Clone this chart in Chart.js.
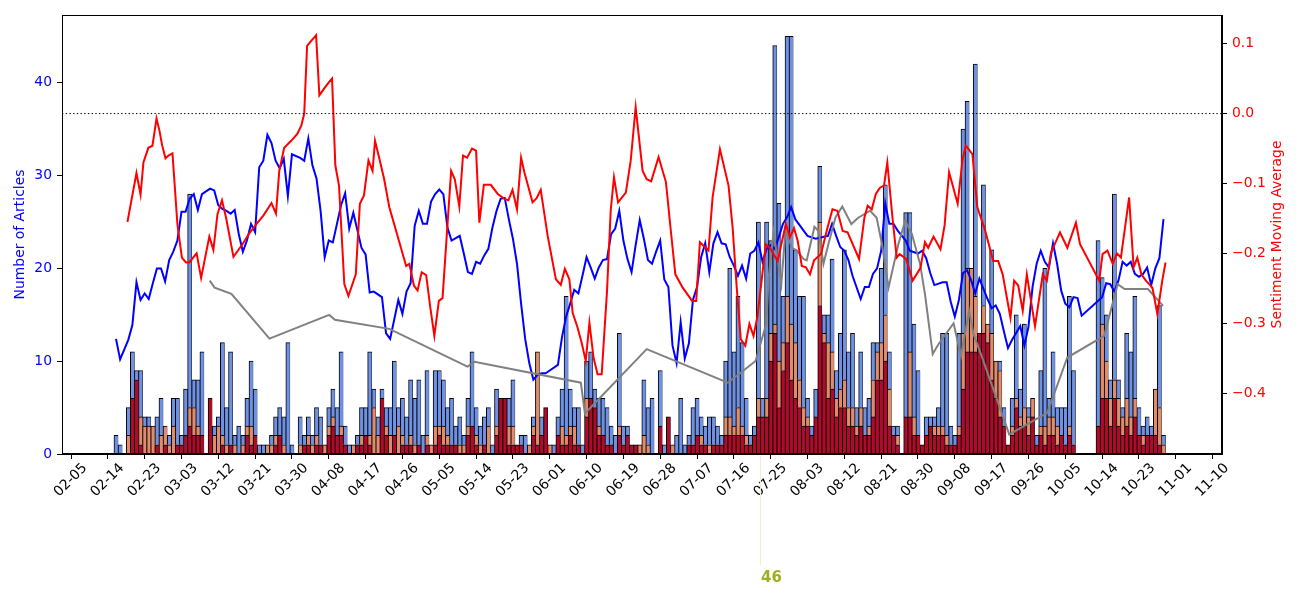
<!DOCTYPE html>
<html lang="en">
<head>
    <meta charset="UTF-8">
    <script src="https://cdn.jsdelivr.net/npm/chart.js"></script>
    <title>Articles per day and sentiment</title>
    <style>body { margin: 0; background: #fff; }</style>
</head>
<body>
    <canvas id="chart" width="1300" height="600"></canvas>
    <script>
        // x is a day number, day 0 = 02-05; one bar per day from firstDay on
        const firstDay = 11;
        const tickLabels = ['02-05','02-14','02-23','03-03','03-12','03-21','03-30','04-08','04-17','04-26',
            '05-05','05-14','05-23','06-01','06-10','06-19','06-28','07-07','07-16','07-25','08-03','08-12',
            '08-21','08-30','09-08','09-17','09-26','10-05','10-14','10-23','11-01','11-10'];

        // articles per day, and how many of them were very negative (red) / mildly negative (salmon)
        const totalCounts = [
            2,1,0,5,11,9,9,4,4,3,      4,6,3,2,6,6,2,7,28,8,     8,11,0,6,3,4,12,5,11,2,
            3,2,6,10,7,1,1,1,2,4,      5,4,12,1,0,4,2,4,2,5,     4,1,5,7,5,11,3,1,1,2,
            5,5,11,7,4,7,5,5,10,5,     6,4,8,6,8,2,9,1,9,9,      8,5,6,3,4,2,6,11,5,3,
            4,5,1,7,6,6,6,8,1,2,       2,1,4,11,4,5,1,1,4,7,     17,7,5,5,1,10,11,7,6,6,
            5,3,2,13,3,3,1,1,1,8,      5,6,0,9,1,4,1,2,6,1,      2,5,6,4,3,4,4,3,2,10,
            20,11,17,12,6,2,3,25,6,25, 23,44,27,17,45,45,22,17,17,6, 3,7,31,15,15,21,9,13,22,11,
            13,5,11,5,6,12,12,20,29,11, 3,3,0,26,26,14,9,1,4,4,  4,5,13,13,3,2,13,35,38,20,
            42,13,29,14,22,10,10,5,1,6, 15,7,14,5,6,2,9,20,6,11, 5,5,5,17,9,0,0,0,0,0,
            23,19,15,8,28,8,5,13,11,17, 5,3,4,3,7,16,2
        ];
        const redCounts = [
            0,0,0,0,6,8,1,0,0,0,       1,0,1,0,0,1,1,2,3,2,      2,2,0,6,0,0,1,0,1,0,
            0,0,2,1,2,0,0,0,0,1,       2,0,0,0,0,0,1,1,0,1,      1,0,2,3,2,2,1,0,0,1,
            1,2,1,0,0,6,2,0,2,0,       1,1,1,0,1,0,1,0,1,2,      1,1,1,1,0,0,2,3,1,0,
            1,0,0,2,6,6,1,1,1,1,       0,0,2,1,2,5,0,0,2,1,      1,2,1,1,0,4,6,5,2,2,
            1,1,0,2,1,2,1,1,0,0,       0,0,0,3,0,4,0,0,0,0,      1,1,2,1,1,0,1,1,1,2,
            2,2,2,2,1,1,2,4,4,4,       10,13,5,9,12,8,6,5,3,3,   2,4,16,12,6,7,4,5,5,3,
            3,2,3,2,2,4,8,8,10,3,      2,1,0,4,4,2,2,1,2,3,      2,2,2,1,1,1,2,7,11,11,
            11,13,13,12,8,6,4,3,1,2,   5,3,3,2,4,1,2,1,2,2,      1,2,1,2,1,0,0,0,0,0,
            3,6,6,3,6,3,2,3,2,4,       2,1,2,2,2,1,0
        ];
        const salmonCounts = [
            0,0,0,2,0,0,3,3,3,3,       0,2,2,1,3,0,0,0,2,3,      1,0,0,0,2,3,1,1,0,1,
            0,1,1,2,0,0,0,1,1,1,       0,1,0,0,0,1,0,1,1,1,      0,1,1,1,0,1,0,0,1,0,
            1,0,1,5,2,0,1,2,0,3,       1,0,1,1,0,0,1,1,2,1,      2,1,0,0,1,1,1,0,1,1,
            0,3,0,1,0,0,2,2,0,0,       0,1,1,10,0,0,1,0,0,2,     1,1,2,0,0,2,0,0,1,0,
            0,0,0,1,0,0,0,0,1,2,       1,0,0,0,0,0,1,0,0,0,      0,0,0,1,0,1,0,0,0,2,
            2,1,3,1,1,0,0,2,0,2,       3,1,5,3,5,6,6,3,2,1,      0,0,9,1,6,4,2,2,3,2,
            2,1,2,0,1,4,3,4,5,4,       0,1,0,0,7,2,0,0,0,0,      1,1,1,1,0,0,1,6,9,9,
            6,0,3,2,5,4,5,0,0,1,       1,1,2,2,2,0,1,2,2,2,      2,0,0,1,0,0,0,0,0,0,
            0,8,4,3,2,3,2,3,2,2,       0,1,0,0,5,4,1
        ];

        // moving average of article count (left axis)
        const avgDays = [11,12,14,15,16,17,18,19,20,21,22,23,24,25,26,27,28,29,30,31,32,33,34,35,36,37,38,39,40,
            41,42,43,44,45,46,47,48,49,50,51,52,53,54,56,57,58,59,60,61,62,63,64,66,67,68,69,71,72,73,74,76,77,78,
            80,81,82,83,84,85,86,87,88,89,90,91,92,93,95,96,97,98,99,100,101,102,103,104,105,106,107,108,109,110,
            111,112,113,114,115,116,117,119,120,121,122,123,124,125,126,127,128,129,130,131,132,133,134,135,136,
            137,138,139,140,141,142,143,144,145,146,147,148,149,150,151,152,153,154,155,156,157,158,159,160,161,
            162,163,164,165,166,167,168,169,170,171,172,173,174,175,176,177,179,180,182,184,185,186,187,188,189,
            190,191,193,194,195,196,197,198,199,200,201,202,204,205,207,208,209,210,211,213,214,215,216,217,218,
            219,220,221,222,223,224,225,226,227,228,229,230,232,233,234,235,236,237,238,239,240,241,242,243,244,
            245,246,247,252,253,254,255,256,257,258,259,260,261,262,263,264,265,266,267];
        const avgArticles = [12.4,10.2,12.3,13.9,18.5,16.6,17.3,16.7,18.4,20.0,20.0,18.6,20.9,21.8,23.0,26.1,26.1,
            27.5,28.0,26.3,28.0,28.3,28.6,28.4,26.8,26.4,26.2,25.9,26.3,23.7,21.8,23.0,24.8,23.9,30.9,31.6,34.4,
            33.5,31.6,30.8,31.8,27.8,32.3,31.9,31.6,34.0,31.1,29.7,26.2,21.2,23.0,22.8,26.8,28.1,24.3,26.0,22.2,
            21.5,17.4,17.5,16.9,13.0,12.4,16.6,15.1,17.5,18.4,24.6,26.2,24.8,24.8,27.2,28.0,28.5,28.0,24.4,23.0,
            23.5,21.6,19.6,19.4,20.7,20.5,21.4,22.1,24.4,26.2,27.5,27.6,25.3,23.2,20.5,16.2,12.4,9.8,8.0,8.5,8.7,
            8.7,9.0,9.6,12.6,14.8,16.2,17.7,17.3,19.2,21.2,20.1,18.9,20.1,20.9,21.0,23.7,24.3,26.2,23.0,21.0,19.6,
            22.5,25.2,23.2,20.9,20.5,21.8,23.0,18.8,18.0,11.7,9.8,14.2,10.3,11.9,16.6,18.0,21.2,22.7,19.6,22.7,
            23.9,22.7,22.6,21.2,20.3,19.2,20.3,18.9,21.6,21.9,22.8,20.7,22.1,22.5,22.1,23.4,24.8,25.5,26.6,25.3,
            24.1,23.5,23.2,23.4,23.5,24.8,23.5,22.3,21.9,20.9,19.2,16.7,18.0,18.0,19.4,20.0,21.9,27.0,24.8,24.8,
            24.1,23.0,21.9,21.6,21.9,21.1,19.5,18.2,18.5,18.5,16.4,14.8,16.6,19.5,19.8,18.7,17.3,18.9,17.8,16.7,
            15.7,16.0,15.1,13.2,11.4,12.3,13.8,11.7,13.7,18.0,20.5,21.9,20.7,20.1,22.7,20.5,17.6,16.2,15.8,16.9,
            16.8,14.9,16.9,18.4,18.3,17.5,18.7,20.7,20.3,20.7,19.4,19.1,19.4,20.1,18.2,20.0,21.1,25.3];

        // sentiment moving average (right axis)
        const sentDays = [13.8,16,17,17.7,18.9,19.9,20.4,20.9,21.6,22.3,23.1,23.8,24.8,26,27.1,28.1,28.9,30.7,31.8,
            33.8,34.8,35.8,36.9,37.9,39.7,41.9,43.6,45.2,47,49,50.1,50.9,52.1,53.8,55.3,56.3,57,57.7,58.7,59.9,
            60.7,61.9,62.9,63.8,64.6,65.5,66.8,67.8,69.6,70.6,71.6,72.7,73.7,74.3,75.3,76.5,77.8,79.9,81.9,82.7,
            83.8,84.7,85.7,86.8,87.8,88.8,89.9,90.8,92.9,93.8,94.9,95.8,96.8,98,99,99.8,100.9,102.6,104.3,105.9,
            106.9,107.9,109,110,110.8,112.8,113.8,114.8,116.5,118.5,119.7,120.7,121.8,122.6,123.8,124.8,125.8,
            126.7,127.7,128.7,129.7,131,131.9,132.7,133.7,135.6,136.8,138,139.7,140.7,141.8,143.6,145.4,146.6,
            147.7,149.5,151.8,152.8,153.7,155.8,156.8,158.6,160.7,161.7,162.7,163.7,164.8,165.8,166.8,167.8,169.8,
            170.8,172.7,174.7,175.7,176.7,177.6,178.6,179.6,180.6,181.6,183.3,184.9,186.1,187.3,188.6,189.8,192.6,
            193.9,194.7,195.7,196.7,197.7,198.7,199.5,200.8,201.8,202.5,204.1,205.7,207.6,208.7,209.5,210.8,212.5,
            213.5,214.6,216.7,217.9,218.7,220.3,221.5,223.3,225.4,226.6,227.7,229.6,230.5,231.5,232.6,233.6,235.6,
            237.5,238.5,239.5,241.7,243.5,245.6,246.6,251.3,252.1,253.3,254.6,255.6,256.6,258.6,259.7,260.6,261.6,
            262.7,264.3,265.5,266.7,267.5];
        const sentAvg = [-0.155,-0.085,-0.116,-0.07,-0.049,-0.046,-0.027,-0.007,-0.024,-0.046,-0.064,-0.06,-0.057,
            -0.158,-0.206,-0.213,-0.213,-0.2,-0.235,-0.176,-0.195,-0.144,-0.124,-0.149,-0.205,-0.187,-0.171,-0.159,
            -0.146,-0.128,-0.143,-0.082,-0.049,-0.039,-0.029,-0.017,0.0,0.097,0.104,0.112,0.026,0.036,0.044,0.05,
            -0.074,-0.103,-0.244,-0.261,-0.23,-0.129,-0.117,-0.067,-0.082,-0.039,-0.063,-0.093,-0.134,-0.177,-0.218,
            -0.215,-0.246,-0.253,-0.227,-0.231,-0.277,-0.318,-0.268,-0.264,-0.082,-0.094,-0.133,-0.06,-0.063,-0.05,
            -0.053,-0.156,-0.102,-0.102,-0.115,-0.122,-0.124,-0.109,-0.137,-0.063,-0.084,-0.127,-0.121,-0.109,
            -0.175,-0.237,-0.245,-0.222,-0.237,-0.285,-0.306,-0.328,-0.354,-0.299,-0.349,-0.373,-0.373,-0.254,
            -0.139,-0.091,-0.127,-0.113,-0.067,0.009,-0.082,-0.094,-0.097,-0.062,-0.098,-0.168,-0.23,-0.249,-0.268,
            -0.268,-0.184,-0.196,-0.12,-0.051,-0.103,-0.163,-0.249,-0.323,-0.332,-0.301,-0.318,-0.289,-0.187,-0.192,
            -0.211,-0.158,-0.177,-0.164,-0.182,-0.218,-0.22,-0.23,-0.21,-0.201,-0.163,-0.137,-0.139,-0.168,-0.17,
            -0.208,-0.149,-0.132,-0.137,-0.115,-0.106,-0.103,-0.07,-0.151,-0.206,-0.201,-0.208,-0.239,-0.221,-0.184,
            -0.192,-0.176,-0.194,-0.16,-0.084,-0.129,-0.065,-0.046,-0.058,-0.134,-0.165,-0.211,-0.211,-0.23,-0.292,
            -0.239,-0.246,-0.282,-0.23,-0.304,-0.23,-0.239,-0.199,-0.17,-0.192,-0.156,-0.187,-0.239,-0.201,-0.196,
            -0.215,-0.2,-0.206,-0.12,-0.22,-0.206,-0.23,-0.239,-0.249,-0.287,-0.239,-0.213];

        // grey sentiment trend (right axis), sparse points
        const grayDays = [33.9,35.1,39.2,48.5,63.1,64.5,77.8,96.9,98.6,124.6,125.6,140.7,160.5,163.2,167.3,169.9,
            170.5,171.7,173.6,174.6,176.2,177.4,179,179.8,181.7,182.7,183.9,185.1,186.8,188.5,190.7,192.4,195.3,
            196.9,198.2,199.8,202.2,203.9,205.5,207.5,208.7,210.6,212,215.7,217.5,219.5,220.6,222.8,229.3,238.6,
            243.5,252.5,255.8,257.5,263.2,266.9];
        const grayAvg = [-0.239,-0.249,-0.258,-0.322,-0.288,-0.295,-0.308,-0.362,-0.355,-0.385,-0.429,-0.337,-0.385,
            -0.373,-0.354,-0.301,-0.235,-0.17,-0.244,-0.168,-0.192,-0.196,-0.208,-0.21,-0.162,-0.168,-0.215,-0.187,
            -0.149,-0.133,-0.158,-0.149,-0.139,-0.149,-0.187,-0.249,-0.187,-0.153,-0.172,-0.215,-0.258,-0.344,-0.33,
            -0.3,-0.347,-0.282,-0.316,-0.351,-0.459,-0.428,-0.349,-0.318,-0.244,-0.251,-0.251,-0.275];

        const markDay = 168.5;
        const markText = '46';

        const xMin = -2.2, xMax = 281.3;
        const days = totalCounts.map((_, i) => firstDay + i);
        const blueCounts = totalCounts.map((t, i) => t - redCounts[i] - salmonCounts[i]);

        function barSet(counts, color) {
            return {
                data: counts.map((v, i) => ({ x: days[i], y: v || null })),
                backgroundColor: color,
                borderColor: '#000',
                borderWidth: { top: 1, left: 1, right: 0.5, bottom: 0 },
                borderSkipped: false,
                barPercentage: 1,
                categoryPercentage: 1
            };
        }
        function lineSet(xs, ys, axis, color, order) {
            return {
                type: 'line',
                data: xs.map((x, i) => ({ x: x, y: ys[i] })),
                yAxisID: axis,
                borderColor: color,
                borderWidth: 2,
                pointRadius: 0,
                tension: 0,
                order: order
            };
        }

        // frame around the plot, right axis title (reads upwards), the "46" marker
        const extras = {
            id: 'extras',
            afterDatasetsDraw(chart) {
                const { ctx, chartArea: a } = chart;
                ctx.save();
                ctx.strokeStyle = '#000';
                ctx.lineWidth = 1;
                ctx.strokeRect(Math.round(a.left) + 0.5, Math.round(a.top) + 0.5,
                    Math.round(a.right - a.left) - 1, Math.round(a.bottom - a.top) - 1);
                ctx.restore();
            },
            afterDraw(chart) {
                const { ctx, chartArea: a, scales } = chart;
                ctx.save();
                ctx.translate(scales.y1.right - 22.5, (a.top + a.bottom) / 2);
                ctx.rotate(-Math.PI / 2);
                ctx.font = "13.9px 'DejaVu Sans'";
                ctx.fillStyle = '#ff0000';
                ctx.textAlign = 'center';
                ctx.textBaseline = 'middle';
                ctx.fillText('Sentiment Moving Average', 0, 0);
                ctx.restore();

                const mx = Math.round(scales.x.getPixelForValue(markDay)) + 0.5;
                ctx.save();
                ctx.strokeStyle = '#eef0c6';
                ctx.lineWidth = 1;
                ctx.beginPath();
                ctx.moveTo(mx, a.bottom + 2);
                ctx.lineTo(mx, a.bottom + 111);
                ctx.stroke();
                ctx.font = "bold 15px 'DejaVu Sans'";
                ctx.fillStyle = '#9db01f';
                ctx.textAlign = 'left';
                ctx.textBaseline = 'alphabetic';
                ctx.fillText(markText, mx + 0.5, a.bottom + 128);
                ctx.restore();
            }
        };

        Chart.defaults.font.family = "'DejaVu Sans', sans-serif";
        Chart.defaults.font.size = 13.9;
        Chart.defaults.color = '#000';

        new Chart(document.getElementById('chart'), {
            type: 'bar',
            data: {
                datasets: [
                    barSet(redCounts, '#b00a2a'),
                    barSet(salmonCounts, '#e08b6c'),
                    barSet(blueCounts, '#6f91e3'),
                    lineSet(avgDays, avgArticles, 'yL', '#0000ff', -1),
                    lineSet(grayDays, grayAvg, 'y1', '#808080', -2),
                    lineSet(sentDays, sentAvg, 'y1', '#ff0000', -3),
                    {
                        type: 'line',
                        data: [{ x: xMin, y: 0 }, { x: xMax, y: 0 }],
                        yAxisID: 'y1',
                        borderColor: '#000',
                        borderWidth: 1,
                        borderDash: [1.4, 2.3],
                        pointRadius: 0,
                        order: -4
                    }
                ]
            },
            options: {
                responsive: false,
                animation: false,
                devicePixelRatio: 1,
                events: [],
                layout: { padding: { top: 15, left: 0, right: 0, bottom: 0 } },
                plugins: { legend: { display: false }, tooltip: { enabled: false } },
                scales: {
                    x: {
                        type: 'linear',
                        min: xMin,
                        max: xMax,
                        stacked: true,
                        offset: false,
                        afterBuildTicks: axis => { axis.ticks = tickLabels.map((_, i) => ({ value: i * 9 })); },
                        afterFit: axis => { axis.height = 146; },
                        grid: { display: true, drawOnChartArea: false, tickLength: 5, color: '#000', offset: false },
                        border: { display: true, color: '#000' },
                        ticks: {
                            autoSkip: false,
                            minRotation: 45,
                            maxRotation: 45,
                            labelOffset: 14,
                            padding: 1,
                            color: '#000',
                            callback: (value, index) => tickLabels[index]
                        }
                    },
                    y: {
                        stacked: true,
                        min: 0,
                        max: 47.3,
                        afterFit: axis => { axis.width = 62; },
                        grid: { display: true, drawOnChartArea: false, tickLength: 5, color: '#000' },
                        border: { display: true, color: '#000' },
                        ticks: { stepSize: 10, includeBounds: false, padding: 5, color: '#0000ff' },
                        title: { display: true, text: 'Number of Articles', color: '#0000ff', padding: { top: 12.5, bottom: 0 } }
                    },
                    yL: { display: false, min: 0, max: 47.3 },
                    y1: {
                        position: 'right',
                        min: -0.487,
                        max: 0.141,
                        afterFit: axis => { axis.width = 78; },
                        grid: { display: true, drawOnChartArea: false, tickLength: 5, color: '#000' },
                        border: { display: true, color: '#000' },
                        ticks: {
                            stepSize: 0.1,
                            includeBounds: false,
                            padding: 5,
                            color: '#ff0000',
                            callback: v => Math.abs(v) < 1e-9 ? '0.0' : (v < 0 ? '\u2212' : '') + Math.abs(v).toFixed(1)
                        }
                    }
                }
            },
            plugins: [extras]
        });
    </script>
</body>
</html>
